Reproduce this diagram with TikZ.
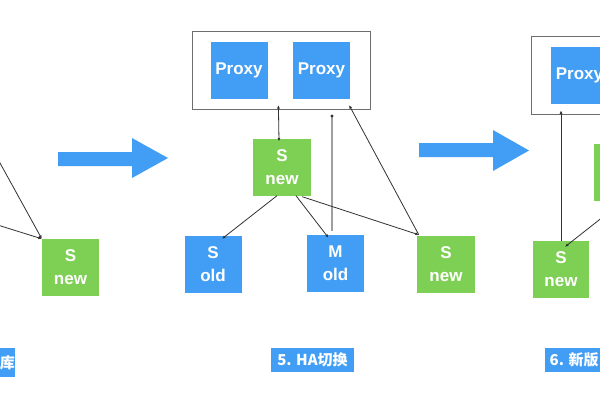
\documentclass[tikz,border=0pt]{standalone}
\usepackage{fontspec}
\setmainfont{Liberation Sans}
\newfontfamily\cjk{Noto Sans CJK SC}
\usetikzlibrary{arrows.meta}
\definecolor{bx}{RGB}{66,158,244}
\definecolor{gx}{RGB}{126,208,84}
\definecolor{ln}{RGB}{50,50,50}
\definecolor{fr}{RGB}{110,110,110}
\tikzset{
  sq/.style={minimum width=57pt, minimum height=57pt, inner sep=0pt, text=white, align=center, font=\bfseries\fontsize{17}{23}\selectfont},
  bsq/.style={sq, fill=bx},
  gsq/.style={sq, fill=gx},
  lab/.style={fill=bx, text=white, inner sep=0pt, font=\cjk\bfseries\fontsize{15}{17}\selectfont},
  conn/.style={draw=ln, line width=0.8pt, -{Latex[length=3.5pt,width=3pt]}},
  bigarrow/.style={fill=bx},
  frame/.style={draw=fr, line width=1.4pt, fill=white}
}
\begin{document}
\begin{tikzpicture}[x=1pt,y=-1pt]
\clip (0,0) rectangle (600,400);
\fill[white] (0,0) rectangle (600,400);
% ---------- left fragment
\node[gsq] (lnew) at (70.5,267.5) {S\\new};
\node[lab, minimum width=15pt, minimum height=29pt, anchor=north east] (lab4) at (15,348) {库};
\coordinate (la) at (-11.3,142.5);
\coordinate (lb) at (-20,219.5);
\draw[conn] (la) -- (lnew.north west);
\draw[conn] (lb) -- (lnew.north west);
% ---------- big arrows
\fill[bigarrow] (58,152) -- (132,152) -- (132,138) -- (168,158) -- (132,178) -- (132,166) -- (58,166) -- cycle;
\fill[bigarrow] (419,143) -- (493,143) -- (493,130) -- (529,150.5) -- (493,171) -- (493,157) -- (419,157) -- cycle;
% ---------- middle: HA switch
\node[frame, minimum width=178pt, minimum height=78pt, inner sep=0pt, anchor=north west] (box2) at (191.7,30.7) {};
\node[bsq] (p1) at (239,70.5) {Proxy};
\node[bsq] (p2) at (321.5,70.5) {Proxy};
\node[gsq, minimum width=58pt] (snew) at (282,167) {S\\new};
\node[bsq] (sold) at (213,264.5) {S\\old};
\node[bsq] (mold) at (335.5,263.5) {M\\old};
\node[gsq, minimum width=58pt] (snewr) at (446,264.5) {S\\new};
\node[lab, minimum width=83pt, minimum height=24pt] (lab5) at (312.5,360) {5. HA切换};
% connectors
\draw[draw=ln, line width=0.8pt, {Latex[length=3.5pt,width=3pt]}-{Latex[length=3.5pt,width=3pt]}] ([xshift=-3pt,yshift=5pt]box2.south) -- ([xshift=-3pt,yshift=-3pt]snew.north);
\draw[draw=gray!75, line width=2pt] (332,116) -- (332,231);
\fill[ln] (332,116) circle (1.6pt);
\draw[conn] ([xshift=-5pt]snew.south) -- ([xshift=9pt,yshift=-3pt]sold.north);
\draw[conn] ([xshift=14pt]snew.south) -- ([xshift=-7pt,yshift=-3pt]mold.north);
\draw[conn] ([xshift=-9pt,yshift=-1pt]snew.south east) -- ([xshift=2pt,yshift=1pt]snewr.north west);
\draw[conn] ([xshift=2pt,yshift=1pt]snewr.north west) -- ([xshift=-22pt,yshift=5pt]box2.south east);
% ---------- right fragment
\node[frame, minimum width=90pt, minimum height=78pt, inner sep=0pt, anchor=north west] (box3) at (530.7,36) {};
\node[bsq] (p3) at (579.5,75.5) {Proxy};
\node[gsq] (gpart) at (622.5,172.5) {};
\node[gsq, minimum width=56pt] (snew3) at (561,269.5) {S\\new};
\node[lab, minimum width=58pt, minimum height=24pt, anchor=north west] (lab6) at (545,348) {6. 新版};
\coordinate (rc) at (620,203.5);
\draw[conn] (snew3.north) -- ([yshift=5pt]box3.south west -| snew3.north);
\draw[conn] (rc) -- ([xshift=4pt,yshift=-6pt]snew3.north);
\end{tikzpicture}
\end{document}
